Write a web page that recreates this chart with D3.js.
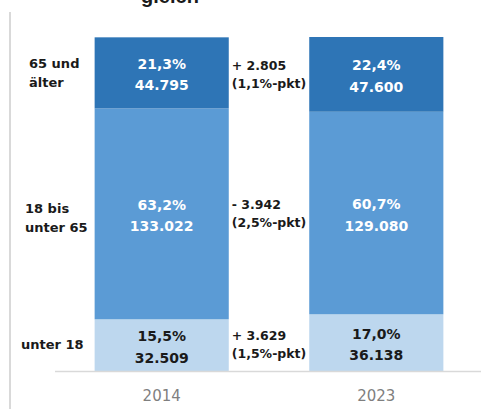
<!DOCTYPE html>
<html>
<head>
<meta charset="utf-8">
<script src="https://cdn.jsdelivr.net/npm/d3@7"></script>
<style>
  body { margin: 0; background: #fff; }
  text { font-family: "DejaVu Sans", sans-serif; }
</style>
</head>
<body>
<div id="viz"></div>
<script>
// data
var years = ["2014", "2023"];
var groups = ["unter 18", "18 bis unter 65", "65 und älter"];
var groupLines = [["unter 18"], ["18 bis", "unter 65"], ["65 und", "älter"]];
var pct2014 = [15.5, 63.2, 21.3];
var pct2023 = [17.0, 60.7, 22.4];
var count2014 = [32509, 133022, 44795];
var count2023 = [36138, 129080, 47600];
var changeAbs = [3629, -3942, 2805];
var changePkt = [1.5, 2.5, 1.1];
var title = "gleich";

var colors = ["#bdd7ee", "#5b9bd5", "#2e75b6"];
var textColors = ["#1a1a1a", "#ffffff", "#ffffff"];

var width = 481, height = 409;
var de = d3.formatLocale({decimal: ",", thousands: ".", grouping: [3], currency: ["", "€"]});
var fmtInt = de.format(",d");
var fmtPct = de.format(".1f");

var svg = d3.select('#viz').append('svg')
    .attr('width', width)
    .attr('height', height);

var pct = {"2014": pct2014, "2023": pct2023};
var counts = {"2014": count2014, "2023": count2023};

var x = d3.scaleBand().domain(years).range([56, 482]).paddingInner(0.375).paddingOuter(0.18);
var y = d3.scaleLinear()
    .domain([0, d3.max(years, function(yr) { return d3.sum(pct[yr]); })])
    .range([371, 37]);

// stacked segments
var segs = [];
years.forEach(function(yr) {
    var acc = 0;
    groups.forEach(function(g, i) {
        segs.push({year: yr, i: i, y0: acc, y1: acc + pct[yr][i], pct: pct[yr][i], n: counts[yr][i]});
        acc += pct[yr][i];
    });
});

// left frame line
svg.append('line')
    .attr('x1', 10).attr('x2', 10)
    .attr('y1', 12).attr('y2', height)
    .attr('stroke', '#d9d9d9').attr('stroke-width', 2);

svg.append('g').selectAll('rect')
    .data(segs)
    .enter().append('rect')
    .attr('x', function(d) { return x(d.year); })
    .attr('width', x.bandwidth())
    .attr('y', function(d) { return y(d.y1); })
    .attr('height', function(d) { return y(d.y0) - y(d.y1); })
    .attr('fill', function(d) { return colors[d.i]; });

// baseline
svg.append('line')
    .attr('x1', 55).attr('x2', width)
    .attr('y1', y(0) + 0.5).attr('y2', y(0) + 0.5)
    .attr('stroke', '#d9d9d9').attr('stroke-width', 1.5);

// labels inside bars
var lbl = svg.append('g').selectAll('g')
    .data(segs)
    .enter().append('g')
    .attr('transform', function(d) {
        return "translate(" + (x(d.year) + x.bandwidth() / 2) + "," + y((d.y0 + d.y1) / 2) + ")";
    })
    .attr('text-anchor', 'middle')
    .style('font-weight', 'bold')
    .style('font-size', '14px')
    .attr('fill', function(d) { return textColors[d.i]; });
lbl.append('text').attr('y', -4).text(function(d) { return fmtPct(d.pct) + "%"; });
lbl.append('text').attr('y', 17.5).text(function(d) { return fmtInt(d.n); });

// change labels between bars
var midY = function(i) {
    var a = segs[i], b = segs[groups.length + i];
    return (y((a.y0 + a.y1) / 2) + y((b.y0 + b.y1) / 2)) / 2;
};
var chg = svg.append('g').selectAll('g')
    .data(groups)
    .enter().append('g')
    .attr('transform', function(d, i) {
        return "translate(" + (x(years[0]) + x.bandwidth() + 3) + "," + midY(i) + ")";
    })
    .style('font-weight', 'bold')
    .style('font-size', '12.5px')
    .attr('fill', '#1a1a1a');
chg.append('text').attr('y', -4).text(function(d, i) {
    return (changeAbs[i] < 0 ? "- " : "+ ") + fmtInt(Math.abs(changeAbs[i]));
});
chg.append('text').attr('y', 14).text(function(d, i) {
    return "(" + fmtPct(changePkt[i]) + "%-pkt)";
});

// group labels on the left
var leftX = [21, 25, 29];
var leftDy = [4, -1, -5];
svg.append('g').selectAll('text')
    .data(groupLines)
    .enter().append('text')
    .attr('x', function(d, i) { return leftX[i]; })
    .attr('y', function(d, i) { return y((segs[i].y0 + segs[i].y1) / 2) + leftDy[i]; })
    .style('font-weight', 'bold')
    .style('font-size', '13px')
    .attr('fill', '#1a1a1a')
    .selectAll('tspan')
    .data(function(d) { return d; })
    .enter().append('tspan')
    .attr('x', function() { return this.parentNode.getAttribute('x'); })
    .attr('dy', function(d, j) { return j === 0 ? 0 : 19; })
    .text(function(d) { return d; });

// x axis labels
svg.append('g').selectAll('text')
    .data(years)
    .enter().append('text')
    .attr('x', function(d) { return x(d) + x.bandwidth() / 2; })
    .attr('y', 401)
    .attr('text-anchor', 'middle')
    .style('font-size', '15px')
    .attr('fill', '#7f7f7f')
    .text(function(d) { return d; });

// title (cut off at top)
svg.append('text')
    .attr('x', 170).attr('y', 3)
    .attr('text-anchor', 'middle')
    .style('font-family', '"Liberation Sans", Arial, sans-serif')
    .style('font-weight', 'bold')
    .style('font-size', '20px')
    .attr('fill', '#1a1a1a')
    .text(title);
</script>
</body>
</html>
